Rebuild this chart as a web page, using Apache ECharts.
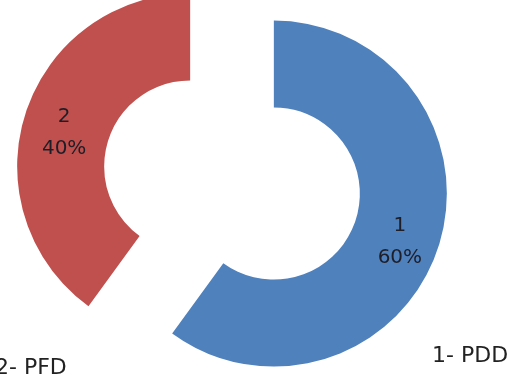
<!DOCTYPE html>
<html>
<head>
<meta charset="utf-8">
<script src="https://cdn.jsdelivr.net/npm/echarts@6/dist/echarts.min.js"></script>
<style>
html,body{margin:0;padding:0;background:#fff;}
#chart{width:508px;height:380px;}
</style>
</head>
<body>
<div id="chart"></div>
<script>
var sliceNames = ['1', '2'];
var sliceValues = [60, 40];
var sliceColors = ['#4F81BD', '#C0504D'];
var captionLabels = ['1- PDD', '2- PFD'];

var chart = echarts.init(document.getElementById('chart'), null, {renderer: 'canvas'});
var data = sliceNames.map(function (n, i) {
  return {name: n, value: sliceValues[i], selected: true, itemStyle: {color: sliceColors[i]}};
});
chart.setOption({
  animation: false,
  backgroundColor: '#ffffff',
  series: [{
    type: 'pie',
    center: [232, 180],
    radius: [86, 173],
    startAngle: 90,
    clockwise: true,
    selectedMode: 'multiple',
    selectedOffset: 44,
    avoidLabelOverlap: false,
    itemStyle: {borderWidth: 0},
    emphasis: {scale: false},
    label: {
      show: true,
      position: 'inside',
      fontFamily: 'DejaVu Sans',
      fontSize: 20,
      lineHeight: 32,
      color: '#1e1e28',
      rich: {
        sp: {fontSize: 1, lineHeight: 15},
        t: {fontFamily: 'DejaVu Sans', fontSize: 20, lineHeight: 32, color: '#1e1e28'}
      },
      formatter: function (p) { return '{sp| }\n{t|' + p.name + '}\n{t|' + Math.round(p.percent) + '%}'; }
    },
    labelLine: {show: false},
    data: data
  }],
  graphic: [
    {type: 'text', left: 432, top: 345, style: {text: captionLabels[0], font: '22px "DejaVu Sans"', fill: '#222'}},
    {type: 'text', left: -5, top: 357, style: {text: captionLabels[1], font: '22px "DejaVu Sans"', fill: '#222'}}
  ]
});
</script>
</body>
</html>
